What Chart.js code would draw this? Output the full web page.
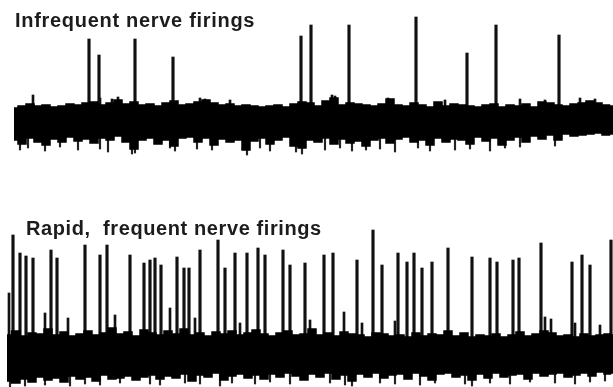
<!DOCTYPE html>
<html>
<head>
<meta charset="utf-8">
<script src="https://cdn.jsdelivr.net/npm/chart.js@4.4.1/dist/chart.umd.min.js"></script>
<style>
  html, body { margin: 0; padding: 0; background: #fff; }
  #wrap { position: relative; width: 613px; height: 387px; overflow: hidden; }
  canvas { position: absolute; left: 0; }
  #topChart { top: 0; }
  #bottomChart { top: 190px; }
  .label {
    position: absolute;
    font-family: "Liberation Sans", Arial, sans-serif;
    font-weight: bold;
    font-size: 20px;
    line-height: 20px;
    letter-spacing: 0.6px;
    color: #1c1c1c;
    white-space: pre;
    z-index: 2;
  }
</style>
</head>
<body>
<div id="wrap">
  <canvas id="topChart" width="613" height="190"></canvas>
  <canvas id="bottomChart" width="613" height="197"></canvas>
  <div class="label" style="left:15px; top:10px; letter-spacing:0.7px;">Infrequent nerve firings</div>
  <div class="label" style="left:26px; top:218px;">Rapid,  frequent nerve firings</div>
</div>
<script>
// time axis (ms) and amplitude (arbitrary units, baseline = 0)

// --- top trace: infrequent firings ---
const topNoiseX = [14, 22, 30, 38, 46, 54, 62, 70, 78, 86, 94, 102, 110, 118, 126, 134, 142, 150, 158, 166,
  174, 182, 190, 198, 206, 214, 222, 230, 238, 246, 254, 262, 270, 278, 286, 294, 302, 310, 318, 326,
  334, 342, 350, 358, 366, 374, 382, 390, 398, 406, 414, 422, 430, 438, 446, 454, 462, 470, 478, 486,
  494, 502, 510, 518, 526, 534, 542, 550, 558, 566, 574, 582, 590, 598, 606, 613];
const topNoiseHigh = [12, 14, 16, 14, 15, 13, 14, 16, 15, 17, 18, 15, 17, 20, 16, 18, 15, 16, 14, 17,
  19, 15, 16, 18, 20, 17, 15, 16, 14, 15, 14, 13, 14, 15, 13, 16, 18, 17, 14, 19,
  22, 15, 17, 16, 15, 14, 16, 21, 15, 14, 17, 15, 13, 18, 14, 16, 15, 14, 13, 15,
  16, 13, 15, 14, 16, 13, 18, 17, 15, 14, 16, 17, 19, 17, 15, 14];
const topNoiseLow = [-20, -24, -18, -22, -25, -19, -22, -17, -21, -19, -23, -18, -20, -16, -22, -29, -20, -18, -24, -20,
  -26, -18, -17, -22, -18, -25, -19, -22, -20, -30, -21, -18, -24, -20, -17, -26, -28, -20, -22, -18,
  -24, -19, -23, -21, -26, -20, -18, -23, -19, -17, -22, -20, -25, -18, -22, -19, -20, -24, -17, -21,
  -18, -25, -20, -17, -22, -16, -19, -15, -20, -14, -16, -15, -14, -13, -15, -14];
const topSpikeX = [89, 99, 135, 173, 301, 311, 349, 416, 467, 496, 559];
const topSpikeY = [81, 65, 81, 63, 84, 95, 95, 103, 67, 95, 85];
// short noise strokes poking out of the band
const topFringeUpX = [33, 100, 112, 118, 200, 205, 230, 332, 335, 388, 445, 520, 545, 580, 595];
const topFringeUpY = [25, 22, 21, 23, 22, 21, 20, 25, 24, 22, 20, 21, 20, 22, 21];
const topFringeDownX = [20, 28, 45, 60, 78, 100, 108, 132, 135, 170, 175, 197, 212, 247, 260, 270, 296, 302,
  325, 340, 352, 366, 380, 395, 418, 430, 455, 470, 490, 505, 520, 555];
const topFringeDownY = [-30, -28, -31, -27, -30, -29, -32, -34, -33, -28, -31, -29, -30, -35, -28, -31, -32, -34,
  -30, -28, -31, -30, -29, -32, -28, -31, -30, -29, -31, -28, -27, -26];

// --- bottom trace: rapid, frequent firings ---
const botNoiseX = [7, 16, 24, 32, 40, 48, 56, 64, 72, 80, 88, 96, 104, 112, 120, 128, 136, 144, 152, 160,
  168, 176, 184, 192, 200, 208, 216, 224, 232, 240, 248, 256, 264, 272, 280, 288, 296, 304, 312, 320,
  328, 336, 344, 352, 360, 368, 376, 384, 392, 400, 408, 416, 424, 432, 440, 448, 456, 464, 472, 480,
  488, 496, 504, 512, 520, 528, 536, 544, 552, 560, 568, 576, 584, 592, 600, 608, 613];
const botNoiseHigh = [18, 22, 17, 20, 19, 24, 18, 21, 17, 19, 22, 18, 20, 25, 19, 21, 17, 23, 20, 18,
  22, 19, 24, 18, 20, 17, 21, 19, 22, 18, 20, 23, 19, 17, 20, 22, 18, 19, 24, 18,
  20, 17, 21, 19, 18, 16, 20, 19, 17, 18, 16, 20, 17, 19, 18, 22, 17, 20, 16, 18,
  17, 19, 16, 18, 21, 17, 19, 22, 20, 17, 18, 16, 19, 17, 18, 19, 18];
const botNoiseLow = [-28, -30, -26, -29, -24, -27, -25, -29, -23, -26, -24, -28, -22, -26, -25, -23, -27, -24, -22, -26,
  -23, -25, -21, -28, -22, -24, -20, -27, -23, -21, -25, -22, -26, -21, -24, -20, -23, -27, -21, -24,
  -20, -26, -22, -28, -21, -24, -20, -25, -22, -21, -26, -20, -23, -27, -21, -20, -24, -22, -27, -21,
  -25, -20, -24, -22, -21, -26, -20, -23, -21, -20, -24, -22, -20, -23, -19, -21, -20];
const botSpikeX = [13, 20, 26, 33, 51, 57, 85, 100, 107, 130, 144, 150, 155, 161, 177, 184, 189, 200, 218, 225,
  235, 247, 258, 265, 283, 290, 305, 324, 333, 357, 373, 382, 398, 407, 414, 422, 432, 448, 472, 490,
  497, 513, 519, 541, 572, 582, 590, 611];
const botSpikeY = [118, 100, 97, 95, 103, 95, 108, 98, 108, 98, 90, 93, 95, 88, 96, 85, 85, 103, 113, 85,
  100, 100, 105, 98, 103, 88, 90, 98, 100, 93, 123, 88, 100, 91, 100, 85, 91, 105, 96, 95,
  91, 93, 95, 110, 91, 98, 88, 113];
const botSmallX = [9, 45, 68, 115, 170, 195, 240, 310, 344, 362, 395, 545, 551, 575, 600];
const botSmallY = [60, 40, 35, 38, 45, 35, 30, 33, 41, 30, 32, 36, 34, 30, 28];
const botFringeDownX = [10, 25, 45, 70, 85, 100, 120, 150, 160, 185, 200, 220, 232, 255, 270, 290, 330, 345,
  352, 380, 395, 420, 435, 465, 472, 490, 510, 530, 555, 575, 590, 605];
const botFringeDownY = [-34, -33, -32, -33, -31, -32, -30, -31, -32, -30, -31, -33, -30, -31, -29, -31, -30, -32,
  -33, -30, -31, -32, -30, -31, -33, -30, -31, -29, -30, -31, -29, -28];

function points(xs, ys) {
    return xs.map((x, i) => ({ x: x, y: ys[i] }));
}

function strokes(xs, ys) {
    return xs.map((x, i) => ({ x: x, y: [0, ys[i]] }));
}

function drawTrace(id, noiseX, high, low, strokeSets, yMin, yMax) {
    const ctx = document.getElementById(id).getContext('2d');
    const datasets = [
        {
            type: 'line',
            data: points(noiseX, high),
            borderColor: '#000',
            backgroundColor: '#000',
            borderWidth: 1.5,
            pointRadius: 0,
            stepped: 'middle',
            fill: '+1'
        },
        {
            type: 'line',
            data: points(noiseX, low),
            borderColor: '#000',
            backgroundColor: '#000',
            borderWidth: 1.5,
            pointRadius: 0,
            stepped: 'middle',
            fill: false
        }
    ];
    strokeSets.forEach(s => {
        datasets.push({
            type: 'bar',
            data: strokes(s.x, s.y),
            backgroundColor: s.color || '#111',
            borderWidth: 0,
            grouped: false,
            barThickness: s.w || 2.5
        });
    });

    return new Chart(ctx, {
        type: 'line',
        data: { datasets: datasets },
        options: {
            responsive: false,
            animation: false,
            layout: { padding: 0 },
            plugins: {
                legend: { display: false },
                tooltip: { enabled: false },
                title: { display: false }
            },
            scales: {
                x: { type: 'linear', min: 0, max: 613, offset: false, display: false },
                y: { min: yMin, max: yMax, display: false }
            }
        }
    });
}

drawTrace('topChart', topNoiseX, topNoiseHigh, topNoiseLow, [
    { x: topSpikeX, y: topSpikeY },
    { x: topFringeUpX, y: topFringeUpY, w: 2 },
    { x: topFringeDownX, y: topFringeDownY, w: 1.5, color: '#222' }
], -70, 120);

drawTrace('bottomChart', botNoiseX, botNoiseHigh, botNoiseLow, [
    { x: botSpikeX, y: botSpikeY },
    { x: botSmallX, y: botSmallY, w: 2 },
    { x: botFringeDownX, y: botFringeDownY, w: 1.5, color: '#222' }
], -34, 163);
</script>
</body>
</html>
